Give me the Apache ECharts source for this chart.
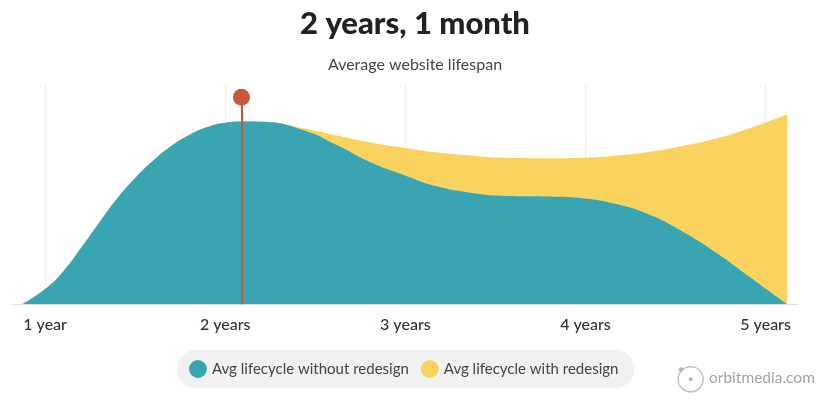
<!DOCTYPE html>
<html>
<head>
<meta charset="utf-8">
<script src="https://cdn.jsdelivr.net/npm/echarts@6/dist/echarts.min.js"></script>
<style>
  html, body { margin: 0; padding: 0; background: #fff; }
  #main { width: 830px; height: 407px; }
</style>
</head>
<body>
<div id="main"></div>
<script>
// tick positions on the year axis
var yearTicks = [1, 2, 3, 4, 5];

// average lifecycle without redesign (x = years, y = share)
var withoutYears = [0.87, 1.0, 1.1, 1.2, 1.3, 1.4, 1.5, 1.6, 1.7, 1.8, 1.9, 2.0, 2.1, 2.2, 2.43, 2.62, 2.80, 2.99, 3.17, 3.36, 3.54, 3.80, 3.99, 4.17, 4.36, 4.54, 4.73, 4.91, 5.12];
var withoutValues = [0, 7.0, 15.0, 25.8, 37.2, 48.2, 57.6, 65.6, 72.2, 77.2, 80.8, 82.8, 83.3, 83.2, 79.5, 72.6, 65.0, 59.0, 53.9, 50.9, 49.5, 49.1, 48.3, 45.7, 40.7, 33.1, 23.3, 12.6, 0];

// average lifecycle with redesign
var withYears = [0.87, 1.0, 1.1, 1.2, 1.3, 1.4, 1.5, 1.6, 1.7, 1.8, 1.9, 2.0, 2.1, 2.2, 2.43, 2.62, 2.80, 2.99, 3.17, 3.36, 3.54, 3.80, 4.00, 4.17, 4.36, 4.54, 4.73, 4.91, 5.12];
var withValues = [0, 7.0, 15.0, 25.8, 37.2, 48.2, 57.6, 65.6, 72.2, 77.2, 80.8, 82.8, 83.3, 83.2, 80.3, 77.0, 73.9, 71.4, 69.3, 67.8, 66.8, 66.6, 66.8, 67.8, 69.6, 72.2, 75.7, 80.3, 86.5];

// average website lifespan marker: 2 years, 1 month
var markerYear = 2.09;
var markerTop = 94.4;

function pairs(xs, ys) {
    return xs.map(function (x, i) { return [x, ys[i]]; });
}

var dom = document.getElementById('main');
var myChart = echarts.init(dom, null, { renderer: 'canvas' });

var option = {
    animation: false,
    title: {
        text: '2 years, 1 month',
        subtext: 'Average website lifespan',
        left: 'center',
        top: 3,
        itemGap: 18,
        textStyle: {
            fontFamily: 'Lato',
            fontWeight: 900,
            fontSize: 31,
            color: '#222'
        },
        subtextStyle: {
            fontFamily: 'Lato',
            fontSize: 16,
            color: '#444'
        }
    },
    legend: {
        data: ['Avg lifecycle without redesign', 'Avg lifecycle with redesign'],
        left: 177,
        top: 350,
        icon: 'circle',
        itemWidth: 18,
        itemHeight: 18,
        itemGap: 12,
        padding: [10, 16, 10, 12],
        backgroundColor: '#f1f1f1',
        borderRadius: 20,
        textStyle: {
            fontFamily: 'Lato',
            fontSize: 15,
            color: '#444'
        }
    },
    grid: {
        left: 12.7,
        right: 32,
        top: 85,
        bottom: 102.7,
        containLabel: false
    },
    xAxis: {
        type: 'value',
        min: 0.82,
        max: 5.18,
        axisLine: { show: true, lineStyle: { color: '#e2e2e2', width: 1 } },
        axisTick: { show: false, customValues: yearTicks },
        splitLine: { show: true, lineStyle: { color: '#ebebeb', width: 1 } },
        axisLabel: {
            customValues: yearTicks,
            margin: 13,
            fontFamily: 'Lato',
            fontSize: 16,
            fontWeight: 500,
            color: '#333',
            formatter: function (v) { return v === 1 ? '1 year' : v + ' years'; }
        }
    },
    yAxis: {
        type: 'value',
        min: 0,
        max: 100,
        show: false,
        splitLine: { show: false }
    },
    series: [
        {
            name: 'Avg lifecycle with redesign',
            type: 'line',
            smooth: 0.5,
            showSymbol: false,
            color: '#f9d35e',
            lineStyle: { width: 0 },
            areaStyle: { color: '#f9d35e', opacity: 1 },
            data: pairs(withYears, withValues)
        },
        {
            name: 'Avg lifecycle without redesign',
            type: 'line',
            smooth: 0.5,
            showSymbol: false,
            color: '#3aa5b2',
            lineStyle: { width: 0 },
            areaStyle: { color: '#3aa5b2', opacity: 1 },
            data: pairs(withoutYears, withoutValues),
            markLine: {
                silent: true,
                animation: false,
                label: { show: false },
                lineStyle: { color: '#c9553a', width: 2, type: 'solid' },
                data: [[
                    { coord: [markerYear, 0], symbol: 'none' },
                    { coord: [markerYear, markerTop], symbol: 'circle', symbolSize: 17 }
                ]]
            }
        }
    ],
    graphic: [
        {
            type: 'circle',
            shape: { cx: 690.7, cy: 379.3, r: 12.5 },
            style: { fill: 'none', stroke: '#c4c4c4', lineWidth: 1.5 },
            silent: true
        },
        {
            type: 'circle',
            shape: { cx: 690.7, cy: 379.3, r: 2 },
            style: { fill: '#b5b5b5' },
            silent: true
        },
        {
            type: 'circle',
            shape: { cx: 681, cy: 369.6, r: 2.3 },
            style: { fill: '#b5b5b5' },
            silent: true
        },
        {
            type: 'text',
            left: 709,
            top: 370,
            silent: true,
            style: {
                text: 'orbitmedia.com',
                fontFamily: 'Lato',
                fontSize: 15.5,
                fill: '#a3a3a3'
            }
        }
    ]
};

if (option && typeof option === 'object') {
    myChart.setOption(option, true);
}
</script>
</body>
</html>
